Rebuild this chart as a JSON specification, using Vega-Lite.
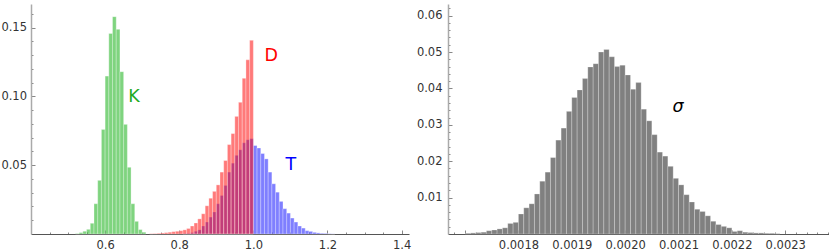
{
  "$schema": "https://vega.github.io/schema/vega-lite/v6.json",
  "padding": {"left": 0, "top": 2, "right": 0, "bottom": 0},
  "spacing": 39,
  "bounds": "flush",
  "config": {
    "view": {"stroke": null},
    "axis": {
      "grid": false,
      "title": null,
      "labelFont": "DejaVu Sans",
      "labelFontSize": 11.5,
      "labelColor": "#333333",
      "tickColor": "#888888",
      "tickWidth": 1,
      "labelOverlap": false,
      "labelFlush": false,
      "labelBound": false
    }
  },
  "datasets": {
    "K": [
      {"lo": 0.52, "hi": 0.53, "v": 0.0003},
      {"lo": 0.53, "hi": 0.54, "v": 0.001},
      {"lo": 0.54, "hi": 0.55, "v": 0.002},
      {"lo": 0.55, "hi": 0.56, "v": 0.0034},
      {"lo": 0.56, "hi": 0.57, "v": 0.0078},
      {"lo": 0.57, "hi": 0.58, "v": 0.022},
      {"lo": 0.58, "hi": 0.59, "v": 0.039},
      {"lo": 0.59, "hi": 0.60, "v": 0.076},
      {"lo": 0.60, "hi": 0.61, "v": 0.1148},
      {"lo": 0.61, "hi": 0.62, "v": 0.1458},
      {"lo": 0.62, "hi": 0.63, "v": 0.158},
      {"lo": 0.63, "hi": 0.64, "v": 0.1488},
      {"lo": 0.64, "hi": 0.65, "v": 0.118},
      {"lo": 0.65, "hi": 0.66, "v": 0.0797},
      {"lo": 0.66, "hi": 0.67, "v": 0.0485},
      {"lo": 0.67, "hi": 0.68, "v": 0.022},
      {"lo": 0.68, "hi": 0.69, "v": 0.0092},
      {"lo": 0.69, "hi": 0.70, "v": 0.0032},
      {"lo": 0.70, "hi": 0.71, "v": 0.0013}
    ],
    "T": [
      {"lo": 0.81, "hi": 0.82, "v": 0.0003},
      {"lo": 0.82, "hi": 0.83, "v": 0.0005},
      {"lo": 0.83, "hi": 0.84, "v": 0.001},
      {"lo": 0.84, "hi": 0.85, "v": 0.002},
      {"lo": 0.85, "hi": 0.86, "v": 0.003},
      {"lo": 0.86, "hi": 0.87, "v": 0.0058},
      {"lo": 0.87, "hi": 0.88, "v": 0.0087},
      {"lo": 0.88, "hi": 0.89, "v": 0.0123},
      {"lo": 0.89, "hi": 0.90, "v": 0.016},
      {"lo": 0.90, "hi": 0.91, "v": 0.022},
      {"lo": 0.91, "hi": 0.92, "v": 0.028},
      {"lo": 0.92, "hi": 0.93, "v": 0.0353},
      {"lo": 0.93, "hi": 0.94, "v": 0.045},
      {"lo": 0.94, "hi": 0.95, "v": 0.0515},
      {"lo": 0.95, "hi": 0.96, "v": 0.0572},
      {"lo": 0.96, "hi": 0.97, "v": 0.0612},
      {"lo": 0.97, "hi": 0.98, "v": 0.0663},
      {"lo": 0.98, "hi": 0.99, "v": 0.0685},
      {"lo": 0.99, "hi": 1.00, "v": 0.0693},
      {"lo": 1.00, "hi": 1.01, "v": 0.0643},
      {"lo": 1.01, "hi": 1.02, "v": 0.0625},
      {"lo": 1.02, "hi": 1.03, "v": 0.0585},
      {"lo": 1.03, "hi": 1.04, "v": 0.0546},
      {"lo": 1.04, "hi": 1.05, "v": 0.045},
      {"lo": 1.05, "hi": 1.06, "v": 0.0365},
      {"lo": 1.06, "hi": 1.07, "v": 0.0304},
      {"lo": 1.07, "hi": 1.08, "v": 0.0237},
      {"lo": 1.08, "hi": 1.09, "v": 0.0184},
      {"lo": 1.09, "hi": 1.10, "v": 0.0152},
      {"lo": 1.10, "hi": 1.11, "v": 0.0116},
      {"lo": 1.11, "hi": 1.12, "v": 0.0087},
      {"lo": 1.12, "hi": 1.13, "v": 0.0058},
      {"lo": 1.13, "hi": 1.14, "v": 0.0043},
      {"lo": 1.14, "hi": 1.15, "v": 0.0024},
      {"lo": 1.15, "hi": 1.16, "v": 0.0019},
      {"lo": 1.16, "hi": 1.17, "v": 0.0012},
      {"lo": 1.17, "hi": 1.18, "v": 0.0008},
      {"lo": 1.18, "hi": 1.19, "v": 0.0005},
      {"lo": 1.19, "hi": 1.20, "v": 0.0004},
      {"lo": 1.20, "hi": 1.21, "v": 0.0002},
      {"lo": 1.21, "hi": 1.22, "v": 0.0001}
    ],
    "D": [
      {"lo": 0.72, "hi": 0.73, "v": 0.0002},
      {"lo": 0.73, "hi": 0.74, "v": 0.0003},
      {"lo": 0.74, "hi": 0.75, "v": 0.0005},
      {"lo": 0.75, "hi": 0.76, "v": 0.0007},
      {"lo": 0.76, "hi": 0.77, "v": 0.001},
      {"lo": 0.77, "hi": 0.78, "v": 0.0013},
      {"lo": 0.78, "hi": 0.79, "v": 0.0017},
      {"lo": 0.79, "hi": 0.80, "v": 0.002},
      {"lo": 0.80, "hi": 0.81, "v": 0.0024},
      {"lo": 0.81, "hi": 0.82, "v": 0.003},
      {"lo": 0.82, "hi": 0.83, "v": 0.004},
      {"lo": 0.83, "hi": 0.84, "v": 0.0058},
      {"lo": 0.84, "hi": 0.85, "v": 0.008},
      {"lo": 0.85, "hi": 0.86, "v": 0.011},
      {"lo": 0.86, "hi": 0.87, "v": 0.0147},
      {"lo": 0.87, "hi": 0.88, "v": 0.0205},
      {"lo": 0.88, "hi": 0.89, "v": 0.026},
      {"lo": 0.89, "hi": 0.90, "v": 0.031},
      {"lo": 0.90, "hi": 0.91, "v": 0.0357},
      {"lo": 0.91, "hi": 0.92, "v": 0.045},
      {"lo": 0.92, "hi": 0.93, "v": 0.0534},
      {"lo": 0.93, "hi": 0.94, "v": 0.065},
      {"lo": 0.94, "hi": 0.95, "v": 0.073},
      {"lo": 0.95, "hi": 0.96, "v": 0.0855},
      {"lo": 0.96, "hi": 0.97, "v": 0.0957},
      {"lo": 0.97, "hi": 0.98, "v": 0.1132},
      {"lo": 0.98, "hi": 0.99, "v": 0.1266},
      {"lo": 0.99, "hi": 1.00, "v": 0.1408}
    ],
    "S": [
      {"lo": 0.00170, "hi": 0.00171, "v": 0.0002},
      {"lo": 0.00171, "hi": 0.00172, "v": 0.0003},
      {"lo": 0.00172, "hi": 0.00173, "v": 0.0004},
      {"lo": 0.00173, "hi": 0.00174, "v": 0.0005},
      {"lo": 0.00174, "hi": 0.00175, "v": 0.0009},
      {"lo": 0.00175, "hi": 0.00176, "v": 0.0011},
      {"lo": 0.00176, "hi": 0.00177, "v": 0.0014},
      {"lo": 0.00177, "hi": 0.00178, "v": 0.0017},
      {"lo": 0.00178, "hi": 0.00179, "v": 0.0029},
      {"lo": 0.00179, "hi": 0.00180, "v": 0.0032},
      {"lo": 0.00180, "hi": 0.00181, "v": 0.0055},
      {"lo": 0.00181, "hi": 0.00182, "v": 0.0072},
      {"lo": 0.00182, "hi": 0.00183, "v": 0.0083},
      {"lo": 0.00183, "hi": 0.00184, "v": 0.011},
      {"lo": 0.00184, "hi": 0.00185, "v": 0.0145},
      {"lo": 0.00185, "hi": 0.00186, "v": 0.017},
      {"lo": 0.00186, "hi": 0.00187, "v": 0.021},
      {"lo": 0.00187, "hi": 0.00188, "v": 0.0258},
      {"lo": 0.00188, "hi": 0.00189, "v": 0.0291},
      {"lo": 0.00189, "hi": 0.00190, "v": 0.0337},
      {"lo": 0.00190, "hi": 0.00191, "v": 0.0375},
      {"lo": 0.00191, "hi": 0.00192, "v": 0.0396},
      {"lo": 0.00192, "hi": 0.00193, "v": 0.0427},
      {"lo": 0.00193, "hi": 0.00194, "v": 0.0459},
      {"lo": 0.00194, "hi": 0.00195, "v": 0.0468},
      {"lo": 0.00195, "hi": 0.00196, "v": 0.0500},
      {"lo": 0.00196, "hi": 0.00197, "v": 0.0507},
      {"lo": 0.00197, "hi": 0.00198, "v": 0.0487},
      {"lo": 0.00198, "hi": 0.00199, "v": 0.0460},
      {"lo": 0.00199, "hi": 0.00200, "v": 0.0464},
      {"lo": 0.00200, "hi": 0.00201, "v": 0.0437},
      {"lo": 0.00201, "hi": 0.00202, "v": 0.0398},
      {"lo": 0.00202, "hi": 0.00203, "v": 0.0416},
      {"lo": 0.00203, "hi": 0.00204, "v": 0.0343},
      {"lo": 0.00204, "hi": 0.00205, "v": 0.0311},
      {"lo": 0.00205, "hi": 0.00206, "v": 0.0273},
      {"lo": 0.00206, "hi": 0.00207, "v": 0.0225},
      {"lo": 0.00207, "hi": 0.00208, "v": 0.0214},
      {"lo": 0.00208, "hi": 0.00209, "v": 0.0186},
      {"lo": 0.00209, "hi": 0.00210, "v": 0.0153},
      {"lo": 0.00210, "hi": 0.00211, "v": 0.0135},
      {"lo": 0.00211, "hi": 0.00212, "v": 0.0108},
      {"lo": 0.00212, "hi": 0.00213, "v": 0.0088},
      {"lo": 0.00213, "hi": 0.00214, "v": 0.0068},
      {"lo": 0.00214, "hi": 0.00215, "v": 0.0062},
      {"lo": 0.00215, "hi": 0.00216, "v": 0.0050},
      {"lo": 0.00216, "hi": 0.00217, "v": 0.0035},
      {"lo": 0.00217, "hi": 0.00218, "v": 0.0026},
      {"lo": 0.00218, "hi": 0.00219, "v": 0.0021},
      {"lo": 0.00219, "hi": 0.00220, "v": 0.0017},
      {"lo": 0.00220, "hi": 0.00221, "v": 0.0007},
      {"lo": 0.00221, "hi": 0.00222, "v": 0.0009},
      {"lo": 0.00222, "hi": 0.00223, "v": 0.0005},
      {"lo": 0.00223, "hi": 0.00224, "v": 0.0004},
      {"lo": 0.00224, "hi": 0.00225, "v": 0.0003},
      {"lo": 0.00225, "hi": 0.00226, "v": 0.0003},
      {"lo": 0.00226, "hi": 0.00227, "v": 0.0002},
      {"lo": 0.00227, "hi": 0.00228, "v": 0.0002},
      {"lo": 0.00228, "hi": 0.00229, "v": 0.0001}
    ]
  },
  "hconcat": [
    {
      "width": 378,
      "height": 230,
      "encoding": {
        "x": {
          "field": "lo", "type": "quantitative",
          "scale": {"domain": [0.4, 1.42], "nice": false, "zero": false},
          "axis": {
            "values": [0.45, 0.5, 0.55, 0.6, 0.65, 0.7, 0.75, 0.8, 0.85, 0.9, 0.95, 1, 1.05, 1.1, 1.15, 1.2, 1.25, 1.3, 1.35, 1.4],
            "labelExpr": "abs(datum.value*5-round(datum.value*5))<1e-6 && datum.value>0.5 ? format(datum.value,'.1f') : ''",
            "tickSize": {"condition": {"test": "abs(datum.value*5-round(datum.value*5))<1e-6", "value": -4}, "value": -2},
            "labelPadding": 9,
            "domainColor": "#555555",
            "domainWidth": 1
          }
        },
        "y": {
          "field": "v", "type": "quantitative",
          "scale": {"domain": [0, 0.1672], "nice": false},
          "axis": {
            "values": [0.01, 0.02, 0.03, 0.04, 0.05, 0.06, 0.07, 0.08, 0.09, 0.1, 0.11, 0.12, 0.13, 0.14, 0.15, 0.16],
            "labelExpr": "abs(datum.value*20-round(datum.value*20))<1e-6 ? format(datum.value,'.2f') : ''",
            "tickSize": {"condition": {"test": "abs(datum.value*20-round(datum.value*20))<1e-6", "value": -4}, "value": -2},
            "labelPadding": 8.5,
            "domainColor": "#aaaaaa",
            "domainWidth": 1.5,
            "minExtent": 31,
            "maxExtent": 31
          }
        }
      },
      "layer": [
        {
          "data": {"name": "K"},
          "mark": {"type": "bar", "color": "#00aa00", "fillOpacity": 0.5, "stroke": "#ffffff", "strokeWidth": 0.6, "strokeOpacity": 0.5},
          "encoding": {"x2": {"field": "hi"}, "y2": {"datum": 0}}
        },
        {
          "data": {"name": "T"},
          "mark": {"type": "bar", "color": "#0000ff", "fillOpacity": 0.5, "stroke": "#ffffff", "strokeWidth": 0.6, "strokeOpacity": 0.5},
          "encoding": {"x2": {"field": "hi"}, "y2": {"datum": 0}}
        },
        {
          "data": {"name": "D"},
          "mark": {"type": "bar", "color": "#ff0000", "fillOpacity": 0.52, "stroke": "#ffffff", "strokeWidth": 0.6, "strokeOpacity": 0.5},
          "encoding": {"x2": {"field": "hi"}, "y2": {"datum": 0}}
        },
        {
          "data": {"values": [
            {"lo": 0.678, "v": 0.0993, "t": "K"},
            {"lo": 1.048, "v": 0.1297, "t": "D"},
            {"lo": 1.101, "v": 0.05, "t": "T"}
          ]},
          "mark": {"type": "text", "font": "DejaVu Sans", "fontSize": 17.5, "align": "center", "baseline": "middle"},
          "encoding": {
            "text": {"field": "t"},
            "color": {"field": "t", "type": "nominal", "scale": {"domain": ["K", "D", "T"], "range": ["#22aa22", "#ff0000", "#0000ff"]}, "legend": null}
          }
        }
      ]
    },
    {
      "width": 381,
      "height": 230,
      "encoding": {
        "x": {
          "field": "lo", "type": "quantitative",
          "scale": {"domain": [0.001668, 0.002382], "nice": false, "zero": false},
          "axis": {
            "values": [0.00168, 0.0017, 0.00172, 0.00174, 0.00176, 0.00178, 0.0018, 0.00182, 0.00184, 0.00186, 0.00188, 0.0019, 0.00192, 0.00194, 0.00196, 0.00198, 0.002, 0.00202, 0.00204, 0.00206, 0.00208, 0.0021, 0.00212, 0.00214, 0.00216, 0.00218, 0.0022, 0.00222, 0.00224, 0.00226, 0.00228, 0.0023, 0.00232, 0.00234, 0.00236, 0.00238],
            "labelExpr": "abs(datum.value*10000-round(datum.value*10000))<1e-6 && datum.value>0.00175 ? format(datum.value,'.4f') : ''",
            "tickSize": {"condition": {"test": "abs(datum.value*10000-round(datum.value*10000))<1e-6", "value": -4}, "value": -2},
            "labelPadding": 9,
            "domainColor": "#555555",
            "domainWidth": 1
          }
        },
        "y": {
          "field": "v", "type": "quantitative",
          "scale": {"domain": [0, 0.0632], "nice": false},
          "axis": {
            "values": [0.002, 0.004, 0.006, 0.008, 0.01, 0.012, 0.014, 0.016, 0.018, 0.02, 0.022, 0.024, 0.026, 0.028, 0.03, 0.032, 0.034, 0.036, 0.038, 0.04, 0.042, 0.044, 0.046, 0.048, 0.05, 0.052, 0.054, 0.056, 0.058, 0.06, 0.062],
            "labelExpr": "abs(datum.value*100-round(datum.value*100))<1e-6 ? format(datum.value,'.2f') : ''",
            "tickSize": {"condition": {"test": "abs(datum.value*100-round(datum.value*100))<1e-6", "value": -4}, "value": -2},
            "labelPadding": 10,
            "domainColor": "#aaaaaa",
            "domainWidth": 1.5
          }
        }
      },
      "layer": [
        {
          "data": {"name": "S"},
          "mark": {"type": "bar", "color": "#808080", "fillOpacity": 1, "stroke": "#ffffff", "strokeWidth": 0.6, "strokeOpacity": 0.4},
          "encoding": {"x2": {"field": "hi"}, "y2": {"datum": 0}}
        },
        {
          "data": {"values": [{"lo": 0.002099, "v": 0.0348, "t": "σ"}]},
          "mark": {"type": "text", "font": "DejaVu Sans", "fontSize": 17.5, "fontStyle": "italic", "align": "center", "baseline": "middle", "color": "#000000"},
          "encoding": {"text": {"field": "t"}}
        }
      ]
    }
  ]
}
